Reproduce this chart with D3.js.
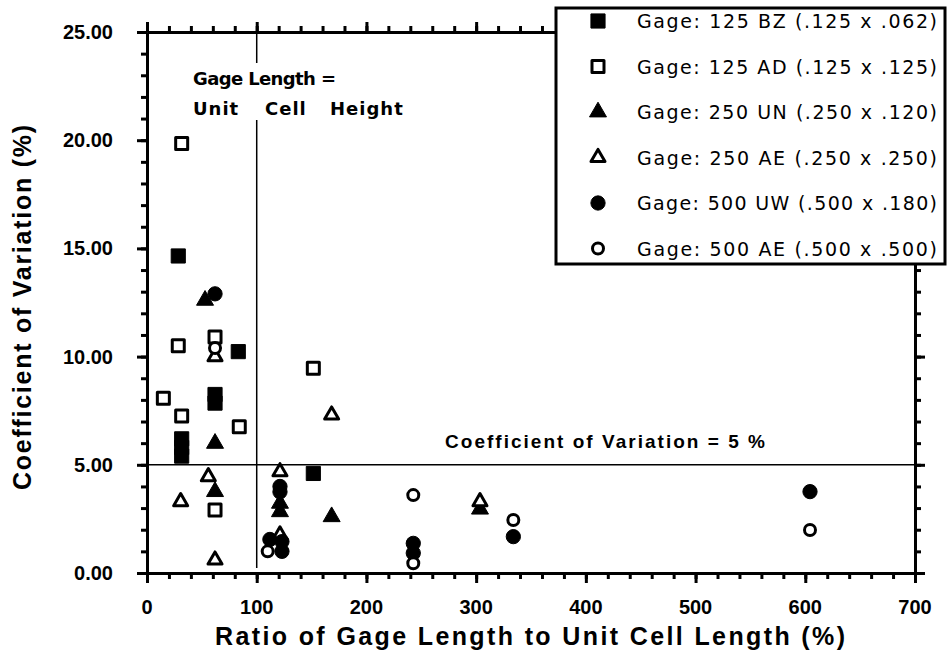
<!DOCTYPE html>
<html lang="en">
<head>
<meta charset="utf-8">
<title>Coefficient of Variation vs Gage Length Ratio</title>
<script src="https://d3js.org/d3.v7.min.js"></script>
<style>
    body { margin: 0; background: #fff; }
    .tick-label { font-family: "Liberation Sans", Arial, sans-serif; font-weight: bold; font-size: 20px; }
    .title { font-family: "Liberation Sans", Arial, sans-serif; font-weight: bold; }
    .note { font-family: "DejaVu Sans", Verdana, sans-serif; }
</style>
</head>
<body>
<svg id="chart" width="948" height="653"></svg>
<script>
    // values: [ratio %, CoV %]
    const series = ["Gage: 125 BZ (.125 x .062)", "Gage: 125 AD (.125 x .125)", "Gage: 250 UN (.250 x .120)",
                    "Gage: 250 AE (.250 x .250)", "Gage: 500 UW (.500 x .180)", "Gage: 500 AE (.500 x .500)"];
    const bz125 = [[28.5, 14.65], [83.2, 10.23], [62, 8.25], [62, 7.85], [31.6, 6.2], [31.6, 5.8], [31.6, 5.4], [151.6, 4.6]];
    const ad125 = [[31.6, 19.85], [28.5, 10.5], [62, 10.9], [14.9, 8.07], [31.6, 7.25], [84.1, 6.76], [62, 2.91], [151.6, 9.46]];
    const un250 = [[52.9, 12.6], [62, 5.99], [62, 3.76], [121.2, 3.22], [121.2, 2.83], [168.3, 2.6], [303.5, 2.95]];
    const ae250 = [[62, 10.0], [55.9, 4.45], [30.7, 3.3], [62, 0.6], [168.3, 7.3], [121.2, 4.68], [121.2, 1.76], [303.5, 3.3]];
    const uw500 = [[62, 12.9], [121.2, 4.0], [121.2, 3.75], [112, 1.55], [123, 1.45], [123, 1.0], [242.7, 1.37], [242.7, 0.92], [333.9, 1.68], [604.3, 3.76]];
    const ae500 = [[62, 10.4], [110, 1.0], [242.7, 3.6], [242.7, 0.45], [333.9, 2.45], [604.3, 1.99]];
    const xTicks = [0, 100, 200, 300, 400, 500, 600, 700];
    const yTicks = [0, 5, 10, 15, 20, 25];

    const svg = d3.select("#chart");
    const x = d3.scaleLinear().domain([0, 700]).range([147, 915]);
    const y = d3.scaleLinear().domain([0, 25]).range([573, 32]);

    const symbols = [
        { type: d3.symbolSquare, size: 200, open: false },
        { type: d3.symbolSquare, size: 144, open: true },
        { type: d3.symbolTriangle, size: 125, open: false },
        { type: d3.symbolTriangle, size: 85, open: true },
        { type: d3.symbolCircle, size: 160, open: false },
        { type: d3.symbolCircle, size: 95, open: true }
    ];

    function drawSymbol(g, s) {
        g.append("path")
            .attr("d", d3.symbol().type(s.type).size(s.size)())
            .attr("fill", s.open ? "#fff" : "#000")
            .attr("stroke", "#000")
            .attr("stroke-width", s.open ? 3 : 1)
            .attr("stroke-linejoin", "round");
    }

    // reference lines
    svg.append("line")
        .attr("x1", x(100)).attr("x2", x(100))
        .attr("y1", y(25)).attr("y2", 568)
        .attr("stroke", "#000").attr("stroke-width", 1.5);
    svg.append("line")
        .attr("x1", x(0)).attr("x2", x(700))
        .attr("y1", y(5)).attr("y2", y(5))
        .attr("stroke", "#000").attr("stroke-width", 1.5);

    // label over the vertical line (white backing breaks the line)
    svg.append("rect").attr("x", 190).attr("y", 63).attr("width", 200).attr("height", 57).attr("fill", "#fff");
    svg.append("text").attr("class", "note").attr("font-weight", "bold").attr("font-size", 18)
        .attr("x", 193).attr("y", 85).attr("textLength", 143).attr("lengthAdjust", "spacing")
        .text("Gage Length =");
    [["Unit", 193], ["Cell", 265], ["Height", 330]].forEach(([w, px]) => {
        svg.append("text").attr("class", "note").attr("font-weight", "bold").attr("font-size", 18)
            .attr("x", px).attr("y", 115).attr("letter-spacing", 1)
            .text(w);
    });

    svg.append("text").attr("class", "title").attr("font-size", 19)
        .attr("x", 445).attr("y", 448)
        .attr("textLength", 320).attr("lengthAdjust", "spacing")
        .text("Coefficient of Variation = 5 %");

    // axes
    const axes = svg.append("g");
    function styleAxis(g) {
        g.select(".domain").attr("stroke-width", 3);
        g.selectAll(".tick line").attr("stroke-width", 3);
        g.selectAll(".tick text").remove();
    }
    const minorX = d3.range(0, 701, 20), minorY = d3.range(0, 26, 1);
    [[d3.axisBottom(x), y(0)], [d3.axisTop(x), y(25)]].forEach(([ax, pos]) => {
        axes.append("g").attr("transform", `translate(0,${pos})`)
            .call(ax.tickValues(minorX).tickSize(6).tickSizeOuter(0)).call(styleAxis);
        axes.append("g").attr("transform", `translate(0,${pos})`)
            .call(ax.tickValues(xTicks).tickSize(10).tickSizeOuter(0)).call(styleAxis);
    });
    [[d3.axisLeft(y), x(0)], [d3.axisRight(y), x(700)]].forEach(([ax, pos]) => {
        axes.append("g").attr("transform", `translate(${pos},0)`)
            .call(ax.tickValues(minorY).tickSize(6).tickSizeOuter(0)).call(styleAxis);
        axes.append("g").attr("transform", `translate(${pos},0)`)
            .call(ax.tickValues(yTicks).tickSize(10).tickSizeOuter(0)).call(styleAxis);
    });

    svg.selectAll(".xlab").data(xTicks).join("text")
        .attr("class", "tick-label").attr("text-anchor", "middle")
        .attr("x", d => x(d)).attr("y", 614).text(d => d);
    svg.selectAll(".ylab").data(yTicks).join("text")
        .attr("class", "tick-label").attr("text-anchor", "end")
        .attr("x", 113).attr("y", d => y(d) + 7).text(d => d.toFixed(2));

    svg.append("text").attr("class", "title").attr("font-size", 25)
        .attr("x", 215).attr("y", 645)
        .attr("textLength", 630).attr("lengthAdjust", "spacing")
        .text("Ratio of Gage Length to Unit Cell Length (%)");
    svg.append("text").attr("class", "title").attr("font-size", 25)
        .attr("transform", "translate(31,490) rotate(-90)")
        .attr("textLength", 365).attr("lengthAdjust", "spacing")
        .text("Coefficient of Variation (%)");

    // points
    const data = [bz125, ad125, un250, ae250, uw500, ae500];
    data.forEach((pts, i) => {
        svg.append("g").selectAll("g").data(pts).join("g")
            .attr("transform", d => `translate(${x(d[0])},${y(d[1])})`)
            .each(function () { drawSymbol(d3.select(this), symbols[i]); });
    });

    // legend
    const legend = svg.append("g");
    legend.append("rect").attr("x", 556).attr("y", 8).attr("width", 389).attr("height", 256)
        .attr("fill", "#fff").attr("stroke", "#000").attr("stroke-width", 3);
    series.forEach((name, i) => {
        const row = legend.append("g").attr("transform", `translate(598,${21 + i * 45.5})`);
        drawSymbol(row, symbols[i]);
        row.append("text").attr("class", "note").attr("font-size", 19)
            .attr("x", 39).attr("y", 7)
            .attr("textLength", 300).attr("lengthAdjust", "spacing")
            .text(name);
    });
</script>
</body>
</html>
